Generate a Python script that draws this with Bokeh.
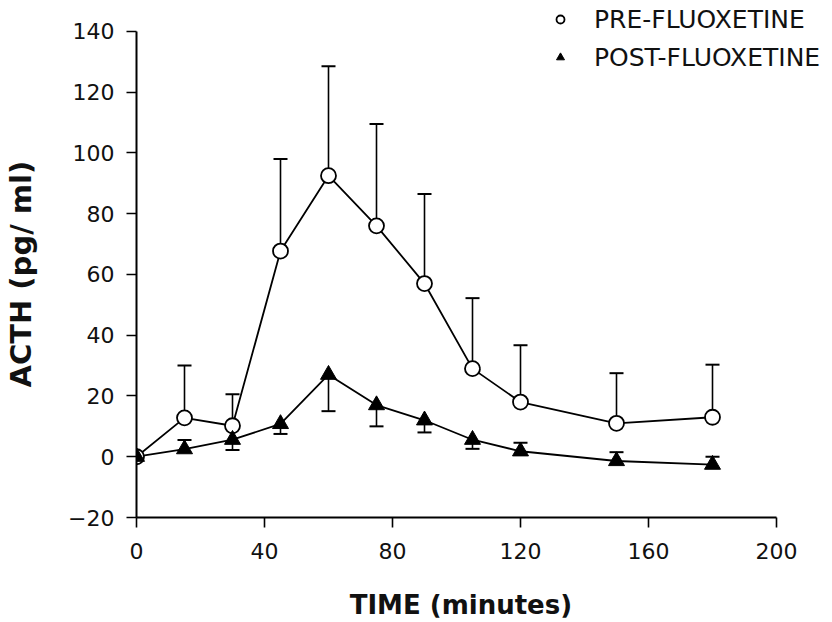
from bokeh.plotting import figure
from bokeh.models import (ColumnDataSource, Whisker, TeeHead, FixedTicker,
                          Legend, LegendItem, Range1d)
from bokeh.embed import file_html
from bokeh.resources import INLINE

# ---- data ----
time_min = [0, 15, 30, 45, 60, 75, 90, 105, 120, 150, 180]
pre_mean = [0, 12.8, 10.2, 67.7, 92.5, 76.0, 57.0, 29.0, 18.0, 11.0, 13.0]
pre_sem = [0, 17.2, 10.4, 30.3, 36.0, 33.5, 29.5, 23.2, 18.7, 16.5, 17.3]
post_mean = [0, 2.5, 5.6, 10.8, 27.0, 17.0, 12.0, 5.6, 1.8, -1.4, -2.6]
post_sem = [0, 3.0, 3.4, 3.3, 12.0, 7.0, 4.0, 3.0, 2.8, 2.9, 2.6]
post_dir = [0, 1, -1, -1, -1, -1, -1, -1, 1, 1, 1]   # +1 bar drawn up, -1 drawn down

x_ticks = [0, 40, 80, 120, 160, 200]
y_ticks = [-20, 0, 20, 40, 60, 80, 100, 120, 140]
series_names = ["PRE-FLUOXETINE", "POST-FLUOXETINE"]
x_title = "TIME (minutes)"
y_title = "ACTH (pg/ ml)"

FONT = "DejaVu Sans"
NBSP = "\u00a0"

pre_src = ColumnDataSource(dict(t=time_min, y=pre_mean))
post_src = ColumnDataSource(dict(t=time_min, y=post_mean))

pre_err_src = ColumnDataSource(dict(
    t=[t for t, e in zip(time_min, pre_sem) if e > 0],
    lo=[m for m, e in zip(pre_mean, pre_sem) if e > 0],
    hi=[m + e for m, e in zip(pre_mean, pre_sem) if e > 0]))
post_up_src = ColumnDataSource(dict(
    t=[t for t, d in zip(time_min, post_dir) if d > 0],
    lo=[m for m, d in zip(post_mean, post_dir) if d > 0],
    hi=[m + e for m, e, d in zip(post_mean, post_sem, post_dir) if d > 0]))
post_dn_src = ColumnDataSource(dict(
    t=[t for t, d in zip(time_min, post_dir) if d < 0],
    lo=[m - e for m, e, d in zip(post_mean, post_sem, post_dir) if d < 0],
    hi=[m for m, d in zip(post_mean, post_dir) if d < 0]))

# frame: x 0..200 spans 640 px (3.2 px/unit), y -20..140 spans 488 px (3.05 px/unit);
# frame is extended right/up so the legend fits inside it
p = figure(width=830, height=622,
           x_range=Range1d(0, 694 / 3.2), y_range=Range1d(-20, -20 + 519 / 3.05),
           output_backend="svg", toolbar_location=None,
           min_border_left=136, min_border_right=0,
           min_border_top=0, min_border_bottom=103)
p.outline_line_color = None
p.xgrid.visible = False
p.ygrid.visible = False
p.background_fill_color = "white"
p.border_fill_color = "white"

# error bars (under the markers)
def tee():
    return TeeHead(size=14, line_width=2, line_color="black")

w1 = Whisker(source=pre_err_src, base="t", lower="lo", upper="hi",
             line_width=1.6, line_color="black", upper_head=tee(), lower_head=None)
w2 = Whisker(source=post_up_src, base="t", lower="lo", upper="hi",
             line_width=1.6, line_color="black", upper_head=tee(), lower_head=None)
w3 = Whisker(source=post_dn_src, base="t", lower="lo", upper="hi",
             line_width=1.6, line_color="black", lower_head=tee(), upper_head=None)
for w in (w1, w2, w3):
    w.level = "underlay"
    p.add_layout(w)

p.line("t", "y", source=pre_src, line_color="black", line_width=1.8)
p.line("t", "y", source=post_src, line_color="black", line_width=1.8)
r_pre = p.scatter("t", "y", source=pre_src, marker="circle", size=15,
                  fill_color="white", line_color="black", line_width=1.8)
r_post = p.scatter("t", "y", source=post_src, marker="triangle", size=16,
                   fill_color="black", line_color="black", line_width=1)

# axes
for ax in (p.xaxis[0], p.yaxis[0]):
    ax.axis_line_width = 2
    ax.axis_line_color = "black"
    ax.major_tick_line_width = 1.6
    ax.major_tick_line_color = "black"
    ax.major_tick_out = 10
    ax.major_tick_in = 0
    ax.minor_tick_out = 0
    ax.minor_tick_in = 0
    ax.major_label_text_font = FONT
    ax.major_label_text_font_size = "22px"
    ax.major_label_text_color = "#111111"
    ax.axis_label_text_font = FONT
    ax.axis_label_text_font_style = "bold"
    ax.axis_label_text_color = "#111111"

p.xaxis[0].bounds = (0, 200)
p.yaxis[0].bounds = (-20, 140)
p.xaxis[0].ticker = FixedTicker(ticks=x_ticks)
p.yaxis[0].ticker = FixedTicker(ticks=y_ticks)
p.yaxis[0].major_label_overrides = {-20: "\u221220"}
p.xaxis[0].major_label_standoff = 15
p.yaxis[0].major_label_standoff = 12

# axis titles: non-breaking padding keeps them centred on the bounded part of each axis
p.xaxis[0].axis_label = x_title + NBSP * 5
p.xaxis[0].axis_label_text_font_size = "26px"
p.xaxis[0].axis_label_standoff = 28
p.yaxis[0].axis_label = y_title + NBSP * 3
p.yaxis[0].axis_label_text_font_size = "29px"
p.yaxis[0].axis_label_standoff = 27

legend = Legend(items=[LegendItem(label=series_names[0], renderers=[r_pre]),
                       LegendItem(label=series_names[1], renderers=[r_post])],
                location=(414, 445), orientation="vertical",
                padding=0, margin=0, spacing=8,
                glyph_width=20, glyph_height=30, label_height=30,
                label_standoff=24,
                label_text_font=FONT, label_text_font_size="25px",
                label_text_color="#111111",
                background_fill_alpha=0, border_line_alpha=0)
p.add_layout(legend, "center")

open("out.html", "w").write(file_html(p, INLINE))
